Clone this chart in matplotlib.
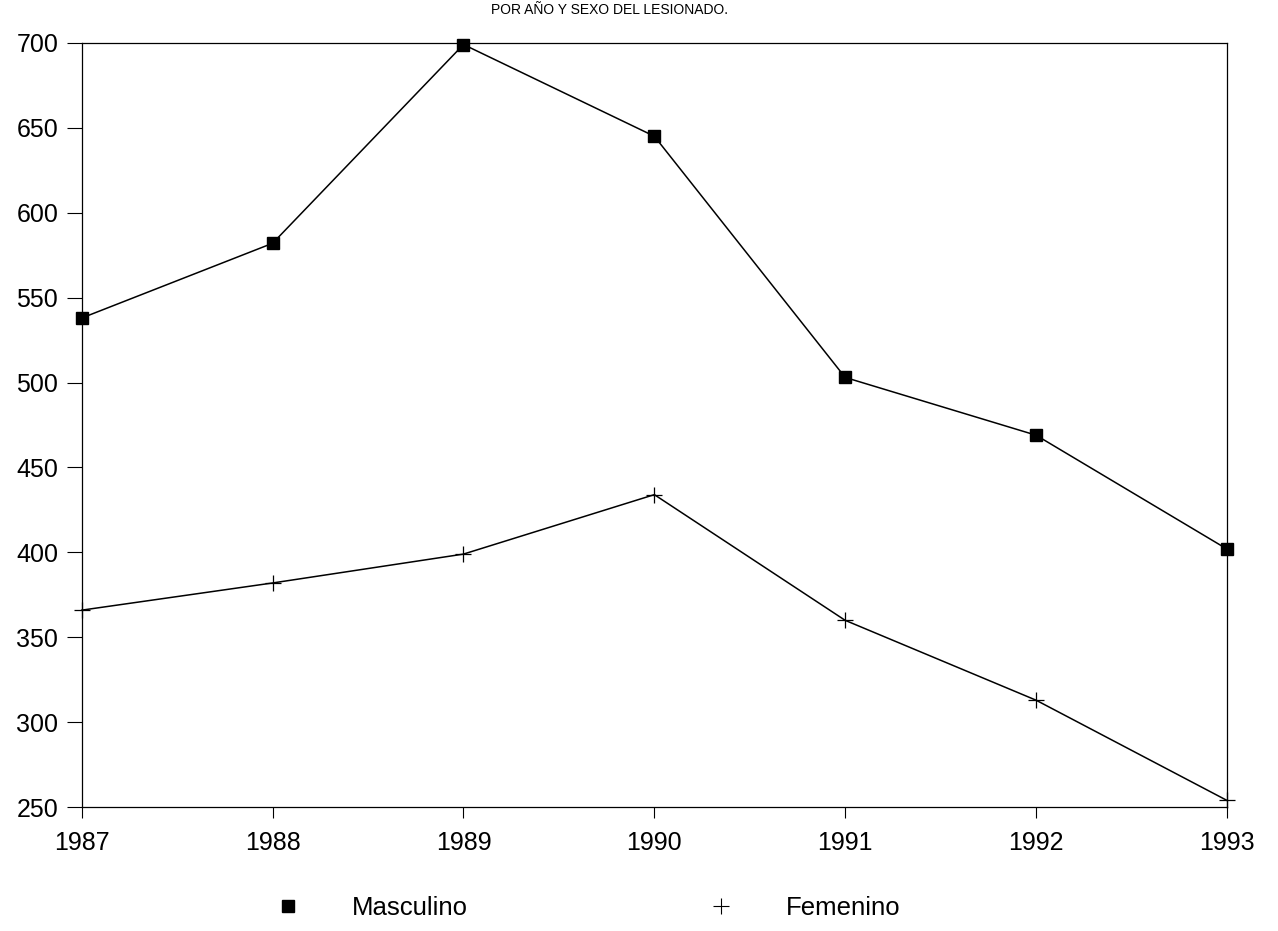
import matplotlib
matplotlib.use("Agg")
import matplotlib.pyplot as plt
from matplotlib.lines import Line2D

plt.rcParams['font.family'] = ['Liberation Sans', 'DejaVu Sans']

years = [1987, 1988, 1989, 1990, 1991, 1992, 1993]
masculino = [538, 582, 699, 645, 503, 469, 402]
femenino = [366, 382, 399, 434, 360, 313, 254]
yticks = [250, 300, 350, 400, 450, 500, 550, 600, 650, 700]

fig = plt.figure(figsize=(12.78, 9.31), dpi=100)
ax = fig.add_axes([0.064, 0.133, 0.896, 0.821])

ax.plot(years, masculino, color='black', lw=1.1, marker='s', markersize=9,
        markerfacecolor='black', markeredgecolor='black', clip_on=False)
ax.plot(years, femenino, color='black', lw=1.1, marker='+', markersize=11,
        markeredgewidth=0.9, clip_on=False)

ax.set_xlim(1987, 1993)
ax.set_ylim(250, 700)
ax.set_xticks(years)
ax.set_yticks(yticks)
ax.tick_params(axis='both', labelsize=18, direction='out', width=0.8)
ax.tick_params(axis='y', length=11, pad=6)
ax.tick_params(axis='x', length=8, pad=9)
for s in ax.spines.values():
    s.set_linewidth(0.9)

fig.text(0.477, 0.989, 'POR AÑO Y SEXO DEL LESIONADO.', ha='center', va='center',
         fontsize=10)

handles = [Line2D([], [], ls='none', marker='s', color='black', markersize=8),
           Line2D([], [], ls='none', marker='+', color='black', markersize=11,
                  markeredgewidth=0.8)]
fig.legend(handles, ['Masculino', 'Femenino'], loc='center left', ncol=2,
           bbox_to_anchor=(0.2003, 0.025), frameon=False, fontsize=18.5,
           borderpad=0, handletextpad=1.75, columnspacing=9.1, handlelength=1.5)

fig.savefig('out.png', dpi=100)
